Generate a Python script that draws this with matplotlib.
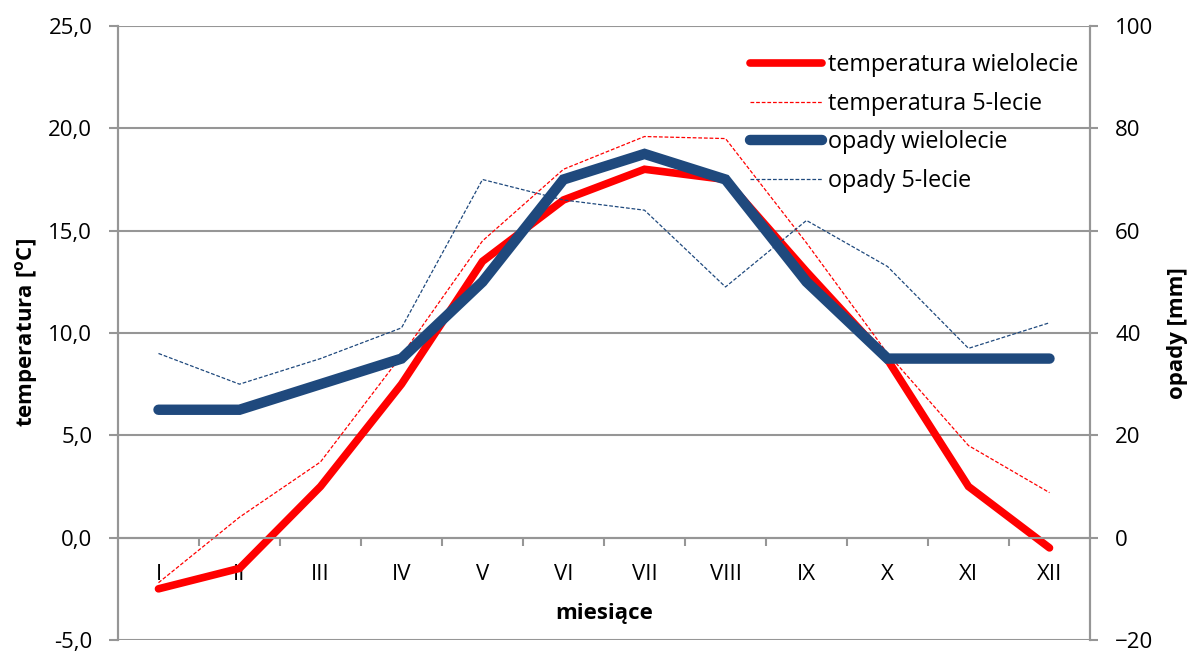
import numpy as np
import matplotlib
matplotlib.use("Agg")
import matplotlib.pyplot as plt
from matplotlib.ticker import FuncFormatter, FixedLocator

plt.rcParams['font.family'] = ['Open Sans', 'DejaVu Sans']
plt.rcParams['mathtext.fontset'] = 'custom'
plt.rcParams['mathtext.rm'] = 'Open Sans:bold'

# data
months = ["I", "II", "III", "IV", "V", "VI", "VII", "VIII", "IX", "X", "XI", "XII"]
temp_long = [-2.5, -1.5, 2.5, 7.5, 13.5, 16.5, 18.0, 17.5, 13.0, 8.7, 2.5, -0.5]
temp_5y = [-2.2, 1.0, 3.7, 8.9, 14.5, 18.0, 19.6, 19.5, 14.4, 9.0, 4.5, 2.2]
rain_long = [25, 25, 30, 35, 50, 70, 75, 70, 50, 35, 35, 35]
rain_5y = [36, 30, 35, 41, 70, 66, 64, 49, 62, 53, 37, 42]

red = "#FF0000"
blue = "#1F497D"
grid_c = "#969696"

fig = plt.figure(figsize=(11.92, 6.51), dpi=100)
ax = fig.add_axes([118 / 1192, 11 / 651, 972 / 1192, 614 / 651])
ax2 = ax.twinx()

x = np.arange(len(months))

l1, = ax.plot(x, temp_long, color=red, lw=5.5, solid_capstyle="round",
              solid_joinstyle="miter", label="temperatura wielolecie")
l2, = ax.plot(x, temp_5y, color=red, lw=0.9, dashes=(3, 1.5),
              label="temperatura 5-lecie")
l3, = ax2.plot(x, rain_long, color=blue, lw=7.5, solid_capstyle="round",
               solid_joinstyle="miter", label="opady wielolecie")
l4, = ax2.plot(x, rain_5y, color=blue, lw=0.9, dashes=(3, 1.5),
               label="opady 5-lecie")

ax.set_xlim(-0.5, len(months) - 0.5)
ax.set_ylim(-5, 25)
ax2.set_ylim(-20, 100)
ax.set_yticks(np.arange(-5, 26, 5))
ax2.set_yticks(np.arange(-20, 101, 20))
ax.yaxis.set_major_formatter(FuncFormatter(lambda v, p: f"{v:.1f}".replace(".", ",")))

# horizontal grid
ax.yaxis.grid(True, color=grid_c, lw=1.5)
ax.set_axisbelow(True)

# category axis crossing at 0
ax.spines["bottom"].set_position(("data", 0))
ax.spines["top"].set_visible(False)
ax2.spines["top"].set_visible(False)
ax2.spines["bottom"].set_visible(False)
for a in (ax, ax2):
    for s in ("left", "right", "bottom"):
        a.spines[s].set_color(grid_c)
        a.spines[s].set_linewidth(1.5)

ax.set_xticks(x)
ax.set_xticklabels(months)
ax.xaxis.set_minor_locator(FixedLocator(np.arange(0.5, len(months) - 1, 1)))
ax.tick_params(axis="x", which="major", length=0, pad=19, labelsize=16)
ax.tick_params(axis="x", which="minor", length=5.5, width=1.5, color=grid_c, direction="out")
ax.tick_params(axis="y", length=6.5, width=1.5, color=grid_c, labelsize=16, pad=12)
ax2.tick_params(axis="y", length=6, width=1.5, color=grid_c, labelsize=16, pad=12)

ax.set_ylabel(r"temperatura [$^{\mathrm{o}}$C]", fontsize=16, fontweight="bold", labelpad=6)
ax2.set_ylabel("opady [mm]", fontsize=16, fontweight="bold", rotation=90, labelpad=10)
ax.text(0.5, 0.043, "miesiące", transform=ax.transAxes, ha="center", va="center",
        fontsize=16, fontweight="bold")

leg = ax2.legend(handles=[l1, l2, l3, l4], loc="upper left", bbox_to_anchor=(0.65, 0.956),
                 frameon=False, fontsize=16.8, handlelength=3.1, handletextpad=0.25,
                 labelspacing=0.63, borderaxespad=0.0, borderpad=0.0)

fig.savefig("out.png", dpi=100)
